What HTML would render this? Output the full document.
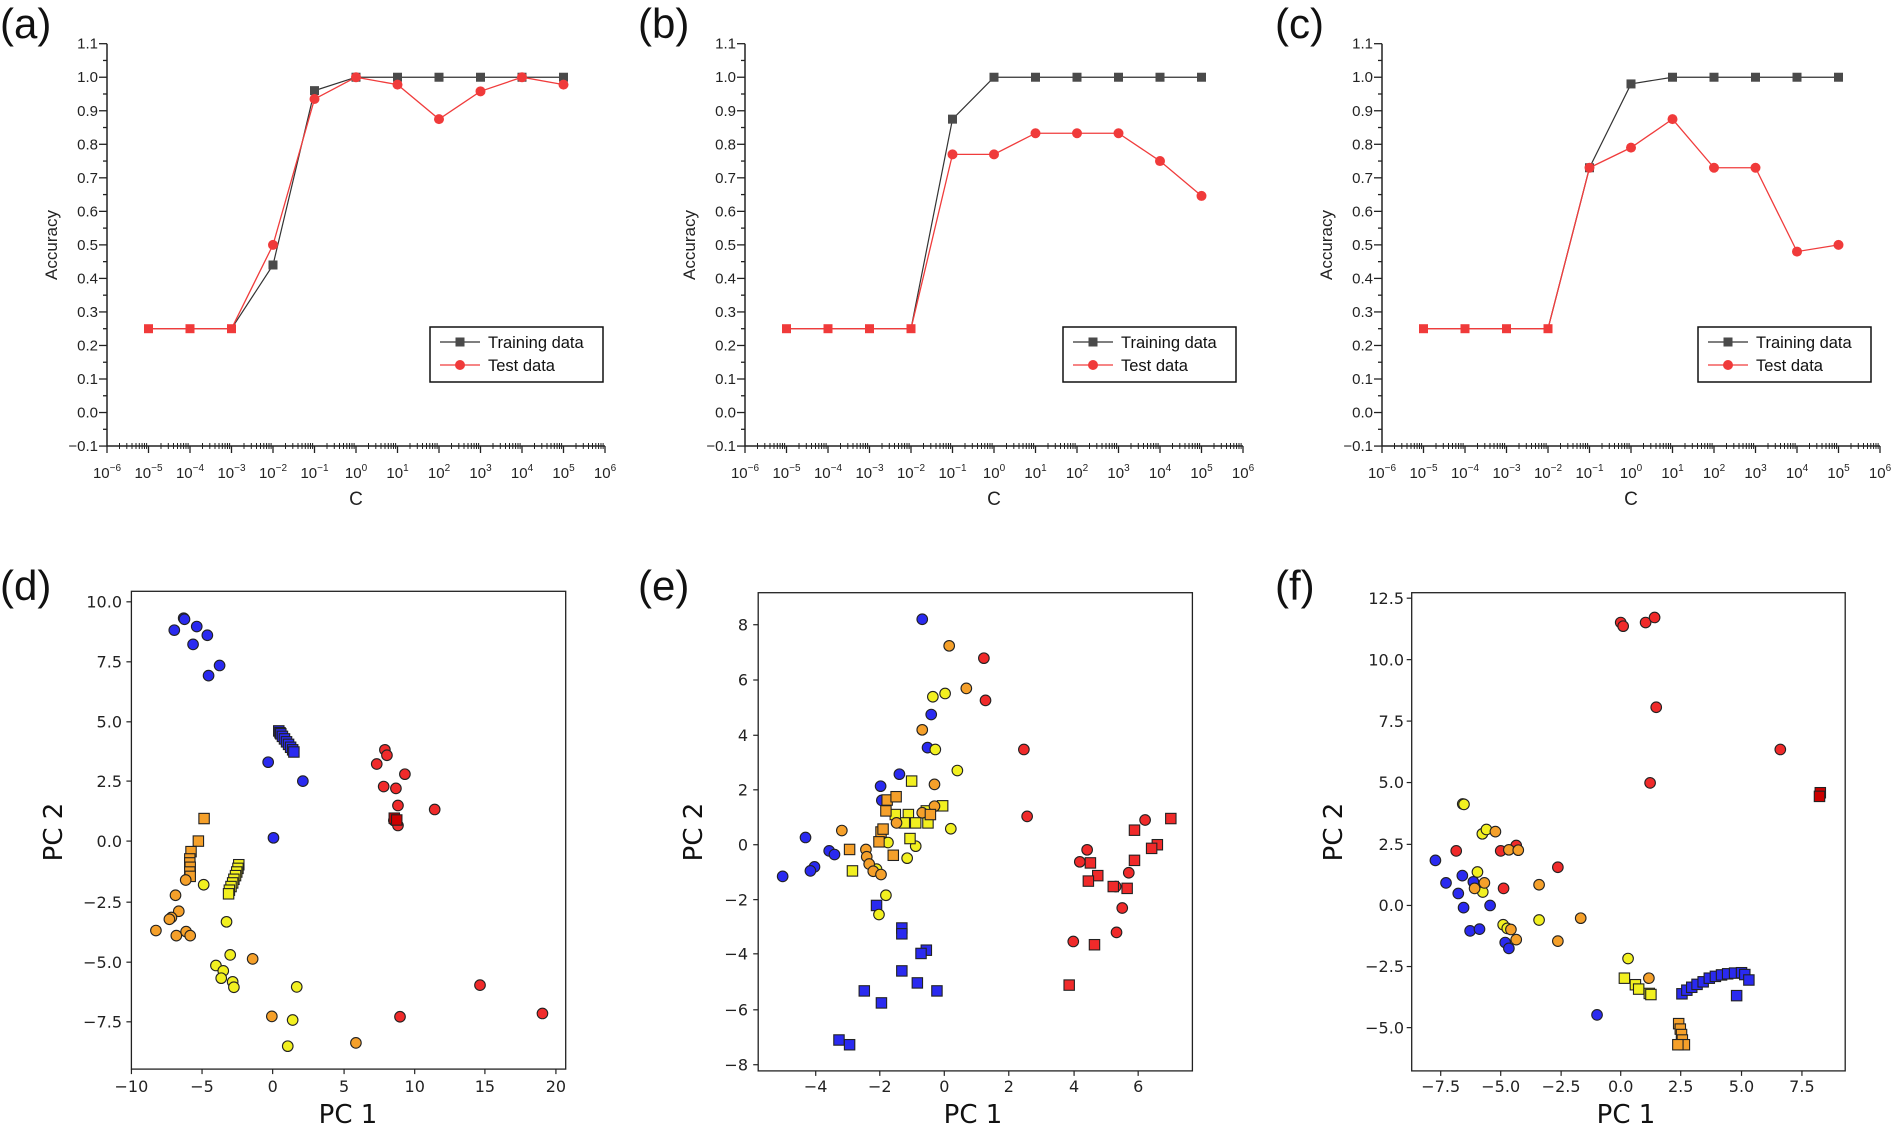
<!DOCTYPE html>
<html><head><meta charset="utf-8"><style>
body{margin:0;background:#fff}
svg{display:block}
.lbl{font-family:"Liberation Sans",sans-serif;font-size:42px;fill:#111}
.t{font-family:"Liberation Sans",sans-serif;font-size:15px;fill:#222}
.s{font-size:10px}
.d{font-family:"DejaVu Sans",sans-serif;font-size:16px;fill:#222}
.pc{font-family:"DejaVu Sans",sans-serif;font-size:26px;fill:#111}
.lg{font-family:"Liberation Sans",sans-serif;font-size:16.5px;fill:#111}
</style></head><body>
<svg id="s" width="1895" height="1127" viewBox="0 0 1895 1127" xmlns="http://www.w3.org/2000/svg">
<rect width="1895" height="1127" fill="#fff"/>
<text class="lbl" x="0" y="38">(a)</text>
<text class="lbl" x="638" y="38">(b)</text>
<text class="lbl" x="1275" y="38">(c)</text>
<text class="lbl" x="0" y="600">(d)</text>
<text class="lbl" x="638" y="600">(e)</text>
<text class="lbl" x="1275" y="600">(f)</text>

<g id="pa" transform="translate(107,0)">
<g class="t" text-anchor="end">
<text x="-9" y="48.7">1.1</text><text x="-9" y="82.2">1.0</text><text x="-9" y="115.8">0.9</text><text x="-9" y="149.3">0.8</text><text x="-9" y="182.8">0.7</text><text x="-9" y="216.4">0.6</text><text x="-9" y="249.9">0.5</text><text x="-9" y="283.4">0.4</text><text x="-9" y="317">0.3</text><text x="-9" y="350.5">0.2</text><text x="-9" y="384">0.1</text><text x="-9" y="417.5">0.0</text><text x="-9" y="451">−0.1</text>
</g>
<g class="t" text-anchor="middle">
<text x="0" y="478">10<tspan class="s" dy="-7">−6</tspan></text>
<text x="41.5" y="478">10<tspan class="s" dy="-7">−5</tspan></text>
<text x="83" y="478">10<tspan class="s" dy="-7">−4</tspan></text>
<text x="124.5" y="478">10<tspan class="s" dy="-7">−3</tspan></text>
<text x="166" y="478">10<tspan class="s" dy="-7">−2</tspan></text>
<text x="207.5" y="478">10<tspan class="s" dy="-7">−1</tspan></text>
<text x="249" y="478">10<tspan class="s" dy="-7">0</tspan></text>
<text x="290.5" y="478">10<tspan class="s" dy="-7">1</tspan></text>
<text x="332" y="478">10<tspan class="s" dy="-7">2</tspan></text>
<text x="373.5" y="478">10<tspan class="s" dy="-7">3</tspan></text>
<text x="415" y="478">10<tspan class="s" dy="-7">4</tspan></text>
<text x="456.5" y="478">10<tspan class="s" dy="-7">5</tspan></text>
<text x="498" y="478">10<tspan class="s" dy="-7">6</tspan></text>
</g>
<text class="t" x="249" y="505" text-anchor="middle" style="font-size:19px">C</text>
<text class="t" transform="translate(-50,245) rotate(-90)" text-anchor="middle" style="font-size:17px">Accuracy</text>
<rect x="323" y="327" width="173" height="55" fill="#fff" stroke="#111" stroke-width="1.5"/>
<text class="lg" x="381" y="348">Training data</text>
<text class="lg" x="381" y="371">Test data</text>
</g>

<g id="pb" transform="translate(745,0)">
<g class="t" text-anchor="end">
<text x="-9" y="48.7">1.1</text><text x="-9" y="82.2">1.0</text><text x="-9" y="115.8">0.9</text><text x="-9" y="149.3">0.8</text><text x="-9" y="182.8">0.7</text><text x="-9" y="216.4">0.6</text><text x="-9" y="249.9">0.5</text><text x="-9" y="283.4">0.4</text><text x="-9" y="317">0.3</text><text x="-9" y="350.5">0.2</text><text x="-9" y="384">0.1</text><text x="-9" y="417.5">0.0</text><text x="-9" y="451">−0.1</text>
</g>
<g class="t" text-anchor="middle">
<text x="0" y="478">10<tspan class="s" dy="-7">−6</tspan></text>
<text x="41.5" y="478">10<tspan class="s" dy="-7">−5</tspan></text>
<text x="83" y="478">10<tspan class="s" dy="-7">−4</tspan></text>
<text x="124.5" y="478">10<tspan class="s" dy="-7">−3</tspan></text>
<text x="166" y="478">10<tspan class="s" dy="-7">−2</tspan></text>
<text x="207.5" y="478">10<tspan class="s" dy="-7">−1</tspan></text>
<text x="249" y="478">10<tspan class="s" dy="-7">0</tspan></text>
<text x="290.5" y="478">10<tspan class="s" dy="-7">1</tspan></text>
<text x="332" y="478">10<tspan class="s" dy="-7">2</tspan></text>
<text x="373.5" y="478">10<tspan class="s" dy="-7">3</tspan></text>
<text x="415" y="478">10<tspan class="s" dy="-7">4</tspan></text>
<text x="456.5" y="478">10<tspan class="s" dy="-7">5</tspan></text>
<text x="498" y="478">10<tspan class="s" dy="-7">6</tspan></text>
</g>
<text class="t" x="249" y="505" text-anchor="middle" style="font-size:19px">C</text>
<text class="t" transform="translate(-50,245) rotate(-90)" text-anchor="middle" style="font-size:17px">Accuracy</text>
<rect x="318" y="327" width="173" height="55" fill="#fff" stroke="#111" stroke-width="1.5"/>
<text class="lg" x="376" y="348">Training data</text>
<text class="lg" x="376" y="371">Test data</text>
</g>

<g id="pc" transform="translate(1382,0)">
<g class="t" text-anchor="end">
<text x="-9" y="48.7">1.1</text><text x="-9" y="82.2">1.0</text><text x="-9" y="115.8">0.9</text><text x="-9" y="149.3">0.8</text><text x="-9" y="182.8">0.7</text><text x="-9" y="216.4">0.6</text><text x="-9" y="249.9">0.5</text><text x="-9" y="283.4">0.4</text><text x="-9" y="317">0.3</text><text x="-9" y="350.5">0.2</text><text x="-9" y="384">0.1</text><text x="-9" y="417.5">0.0</text><text x="-9" y="451">−0.1</text>
</g>
<g class="t" text-anchor="middle">
<text x="0" y="478">10<tspan class="s" dy="-7">−6</tspan></text>
<text x="41.5" y="478">10<tspan class="s" dy="-7">−5</tspan></text>
<text x="83" y="478">10<tspan class="s" dy="-7">−4</tspan></text>
<text x="124.5" y="478">10<tspan class="s" dy="-7">−3</tspan></text>
<text x="166" y="478">10<tspan class="s" dy="-7">−2</tspan></text>
<text x="207.5" y="478">10<tspan class="s" dy="-7">−1</tspan></text>
<text x="249" y="478">10<tspan class="s" dy="-7">0</tspan></text>
<text x="290.5" y="478">10<tspan class="s" dy="-7">1</tspan></text>
<text x="332" y="478">10<tspan class="s" dy="-7">2</tspan></text>
<text x="373.5" y="478">10<tspan class="s" dy="-7">3</tspan></text>
<text x="415" y="478">10<tspan class="s" dy="-7">4</tspan></text>
<text x="456.5" y="478">10<tspan class="s" dy="-7">5</tspan></text>
<text x="498" y="478">10<tspan class="s" dy="-7">6</tspan></text>
</g>
<text class="t" x="249" y="505" text-anchor="middle" style="font-size:19px">C</text>
<text class="t" transform="translate(-50,245) rotate(-90)" text-anchor="middle" style="font-size:17px">Accuracy</text>
<rect x="316" y="327" width="173" height="55" fill="#fff" stroke="#111" stroke-width="1.5"/>
<text class="lg" x="374" y="348">Training data</text>
<text class="lg" x="374" y="371">Test data</text>
</g>

<!-- scatter (d) -->
<rect x="131.4" y="591.3" width="434.3" height="477.8" fill="none" stroke="#222" stroke-width="1.3"/>
<g class="d" text-anchor="middle">
<text x="131.4" y="1092">−10</text><text x="202" y="1092">−5</text><text x="272.7" y="1092">0</text><text x="344.1" y="1092">5</text><text x="414.7" y="1092">10</text><text x="484.9" y="1092">15</text><text x="555.9" y="1092">20</text>
</g>
<g class="d" text-anchor="end">
<text x="122" y="607.5">10.0</text><text x="122" y="667.5">7.5</text><text x="122" y="727.5">5.0</text><text x="122" y="786.8">2.5</text><text x="122" y="846.8">0.0</text><text x="122" y="907.9">−2.5</text><text x="122" y="967.9">−5.0</text><text x="122" y="1027.5">−7.5</text>
</g>
<text class="pc" x="348" y="1123" text-anchor="middle">PC 1</text>
<text class="pc" transform="translate(62,832) rotate(-90)" text-anchor="middle">PC 2</text>

<!-- scatter (e) -->
<rect x="758.2" y="592.7" width="434.2" height="478.2" fill="none" stroke="#222" stroke-width="1.3"/>
<g class="d" text-anchor="middle">
<text x="815.7" y="1092">−4</text><text x="879.8" y="1092">−2</text><text x="944.3" y="1092">0</text><text x="1008.8" y="1092">2</text><text x="1074.1" y="1092">4</text><text x="1138.2" y="1092">6</text>
</g>
<g class="d" text-anchor="end">
<text x="748" y="630.4">8</text><text x="748" y="685.7">6</text><text x="748" y="741">4</text><text x="748" y="795.5">2</text><text x="748" y="850.4">0</text><text x="748" y="905.3">−2</text><text x="748" y="959.5">−4</text><text x="748" y="1015.5">−6</text><text x="748" y="1070.4">−8</text>
</g>
<text class="pc" x="973" y="1123" text-anchor="middle">PC 1</text>
<text class="pc" transform="translate(702,832) rotate(-90)" text-anchor="middle">PC 2</text>

<!-- scatter (f) -->
<rect x="1411.7" y="592.7" width="433.5" height="478.2" fill="none" stroke="#222" stroke-width="1.3"/>
<g class="d" text-anchor="middle">
<text x="1440.7" y="1092">−7.5</text><text x="1500.7" y="1092">−5.0</text><text x="1561.1" y="1092">−2.5</text><text x="1620.7" y="1092">0.0</text><text x="1680.7" y="1092">2.5</text><text x="1741.5" y="1092">5.0</text><text x="1801.9" y="1092">7.5</text>
</g>
<g class="d" text-anchor="end">
<text x="1404" y="603.9">12.5</text><text x="1404" y="665.3">10.0</text><text x="1404" y="726.8">7.5</text><text x="1404" y="788.2">5.0</text><text x="1404" y="850.1">2.5</text><text x="1404" y="911.2">0.0</text><text x="1404" y="972.2">−2.5</text><text x="1404" y="1033.3">−5.0</text>
</g>
<text class="pc" x="1626" y="1123" text-anchor="middle">PC 1</text>
<text class="pc" transform="translate(1342,832) rotate(-90)" text-anchor="middle">PC 2</text>

<g id="dyn"></g>
</svg>
<script>
(function(){
var NS="http://www.w3.org/2000/svg",G=document.getElementById("dyn");
function el(n,a){var e=document.createElementNS(NS,n);for(var k in a)e.setAttribute(k,a[k]);G.appendChild(e);return e;}
function line(x1,y1,x2,y2,c,w){el("line",{x1:x1,y1:y1,x2:x2,y2:y2,stroke:c,"stroke-width":w});}
// line plots
var Y=function(v){return 43.7+(1.1-v)*335.3;};
var panels=[
 {ax:107,lg:323,tr:[.25,.25,.25,.44,.96,1,1,1,1,1,1],te:[.25,.25,.25,.5,.935,1,.978,.875,.958,1,.978]},
 {ax:745,lg:318,tr:[.25,.25,.25,.25,.875,1,1,1,1,1,1],te:[.25,.25,.25,.25,.77,.77,.833,.833,.833,.75,.646]},
 {ax:1382,lg:316,tr:[.25,.25,.25,.25,.73,.98,1,1,1,1,1],te:[.25,.25,.25,.25,.73,.79,.875,.73,.73,.48,.5]}];
panels.forEach(function(p){
 var a=p.ax,D=41.5;
 line(a,43.7,a,446,"#222",1.5);line(a,446,a+498,446,"#222",1.5);
 for(var i=0;i<=24;i++){var y=43.7+i*16.765;line(a-(i%2?4:8),y,a,y,"#222",1.3);}
 for(var d=0;d<=12;d++){var x=a+d*D;line(x,446,x,453,"#222",1.3);
  if(d<12)for(var m=2;m<=9;m++){var xm=x+Math.log10(m)*D;line(xm,443,xm,449,"#222",1);}}
 function px(i){return a+(i+1)*D;}
 var ptr="",pte="";
 for(var i=0;i<11;i++){ptr+=(i?"L":"M")+px(i)+" "+Y(p.tr[i]);pte+=(i?"L":"M")+px(i)+" "+Y(p.te[i]);}
 el("path",{d:ptr,fill:"none",stroke:"#333","stroke-width":1.2});
 el("path",{d:pte,fill:"none",stroke:"#f03c3c","stroke-width":1.3});
 for(var i=0;i<11;i++){
  if(p.tr[i]==p.te[i]&&p.tr[i]==.25){el("rect",{x:px(i)-4.5,y:Y(.25)-4.5,width:9,height:9,fill:"#f03a3a"});continue;}
  el("rect",{x:px(i)-4.5,y:Y(p.tr[i])-4.5,width:9,height:9,fill:"#4a4a4a"});
 }
 for(var i=0;i<11;i++){if(p.tr[i]==p.te[i]&&p.tr[i]==.25)continue;el("circle",{cx:px(i),cy:Y(p.te[i]),r:5,fill:"#f03a3a"});}
 var lx=a+p.lg;
 line(lx+10,342,lx+50,342,"#333",1.2);el("rect",{x:lx+25.5,y:337.5,width:9,height:9,fill:"#4a4a4a"});
 line(lx+10,365,lx+50,365,"#f03c3c",1.3);el("circle",{cx:lx+30,cy:365,r:5,fill:"#f03a3a"});
});
// scatter
var C={b:"#2a2af0",o:"#f5a02a",y:"#f2f020",r:"#f02a2a",k:"#cc0000"};
function sc(ox,oy,ticksX,ticksY,box,pts){
 ticksX.forEach(function(px){var x=ox+px/2.45;line(x,box[3],x,box[3]+5,"#222",1.2);});
 ticksY.forEach(function(py){var y=oy+py/2.75;line(box[0]-5,y,box[0],y,"#222",1.2);});
 pts.forEach(function(g){var t=g[0],col=C[g[1]];for(var i=2;i<g.length;i+=2){var x=ox+g[i]/2.45,y=oy+g[i+1]/2.75;
  if(t=="c")el("circle",{cx:x,cy:y,r:5.3,fill:col,stroke:"#222","stroke-width":1.1});
  else el("rect",{x:x-5.2,y:y-5.2,width:10.4,height:10.4,fill:col,stroke:"#222","stroke-width":1.1});}});
}
sc(0,560,[322,495,668,843,1016,1188,1362],[115,280,445,608,773,941,1106,1270],[131.4,591.3,565.7,1069.1],[
 ["c","b",427,193,450,160,452,163,482,183,473,232,508,207,511,318,538,290,657,556,742,608,670,764],
 ["s","b",683,470,686,475,688,478,692,485,697,492,702,500,707,507,712,515,717,522,720,528],
 ["c","r",943,522,948,537,923,561,992,589,940,623,970,628,975,675,1065,686,965,716,975,730,1176,1169,980,1256,1329,1247],
 ["s","k",966,710,972,715],
 ["s","o",500,711,486,773,468,802,465,822,465,833,466,845,465,858,466,870],
 ["s","y",585,838,583,848,580,858,577,868,573,878,570,888,566,898,562,908,560,918],
 ["c","o",455,880,430,922,438,966,420,983,415,988,382,1019,432,1033,456,1022,466,1033,619,1097,666,1255,872,1328],
 ["c","y",499,893,555,995,564,1086,529,1115,547,1130,542,1150,570,1160,573,1175,727,1174,717,1265,705,1337]]);
sc(630,560,[455,612,770,928,1088,1245],[178,330,482,632,783,934,1083,1237,1388],[758.2,592.7,1192.4,1070.9],[
 ["c","b",716,163,738,425,729,516,660,589,614,622,617,661,430,763,488,800,501,810,452,844,442,855,374,870],
 ["s","b",604,950,666,1012,666,1028,726,1073,713,1082,666,1130,704,1163,574,1185,752,1185,616,1218,512,1320,538,1333],
 ["c","y",742,376,772,367,748,521,802,579,786,739,632,777,700,787,679,820,627,922,610,975,604,850],
 ["s","y",690,608,766,676,682,700,700,723,672,723,730,723,686,766,545,855,726,690,650,700],
 ["c","o",782,236,824,353,716,467,746,617,716,695,746,677,519,744,653,723,578,796,580,816,586,836,596,856,615,865],
 ["s","o",630,660,627,690,652,651,615,748,610,775,538,796,645,812,620,740,736,700],
 ["c","r",867,270,871,386,965,521,973,705,1262,715,1120,797,1102,830,1222,860,1190,898,1206,957,1192,1024,1086,1049],
 ["s","r",1325,711,1236,743,1292,783,1278,793,1236,826,1128,833,1146,868,1123,883,1184,898,1218,903,1138,1058,1076,1169]]);
sc(1255,560,[455,602,750,896,1043,1192,1340],[105,274,443,612,782,950,1118,1286],[1411.7,592.7,1845.2,1070.9],[
 ["c","r",896,172,902,182,957,172,979,158,983,405,968,613,1287,521,493,800,602,800,640,785,742,845,609,903],
 ["s","k",1385,640,1383,650],
 ["c","b",442,826,468,888,508,868,498,917,511,956,535,885,576,950,527,1020,550,1015,613,1052,622,1068,838,1251],
 ["s","b",1046,1193,1058,1183,1070,1175,1083,1167,1098,1160,1113,1150,1128,1145,1143,1141,1158,1138,1175,1136,1192,1135,1200,1140,1210,1155,1180,1198],
 ["c","y",509,671,512,672,557,753,567,741,545,858,558,913,608,1003,696,990,914,1096,618,1013],
 ["c","o",589,747,622,797,645,798,538,903,562,888,696,893,798,985,627,1016,640,1044,742,1048,965,1150],
 ["s","y",905,1150,932,1168,940,1180,966,1192,970,1195],
 ["s","o",1038,1275,1042,1290,1045,1305,1047,1320,1052,1333,1036,1333]]);
})();
</script>
</body></html>
